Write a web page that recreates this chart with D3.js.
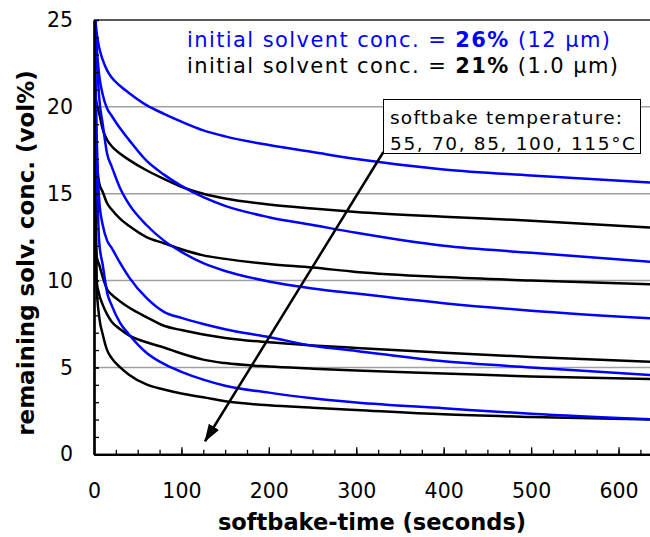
<!DOCTYPE html>
<html>
<head>
<meta charset="UTF-8">
<title>remaining solvent vs softbake time</title>
<script src="https://d3js.org/d3.v7.min.js"></script>
<style>
    body { margin: 0; background: #fff; }
    svg { display: block; font-family: "DejaVu Sans", Verdana, sans-serif; }
</style>
</head>
<body>
<div id="chart"></div>
<script>
// softbake time (s), shared by every curve
const times = [0, 3, 6, 10, 15, 20, 30, 40, 60, 80, 100, 125, 150, 200, 250, 300, 400, 500, 636];

// initial 26% (12 um) film, blue: 55, 70, 85, 100, 115 °C
const blue55  = [26, 24.3, 23.4, 22.7, 22.1, 21.7, 21.2, 20.8, 20.1, 19.6, 19.15, 18.65, 18.3, 17.8, 17.4, 17.0, 16.4, 16.05, 15.64];
const blue70  = [26, 23.5, 21.8, 20.7, 19.9, 19.5, 18.75, 18.1, 16.9, 16.1, 15.45, 14.8, 14.3, 13.65, 13.2, 12.75, 12.0, 11.6, 11.09];
const blue85  = [26, 23.0, 20.5, 19.0, 17.3, 16.6, 15.3, 14.4, 13.2, 12.3, 11.65, 11.0, 10.55, 9.95, 9.55, 9.25, 8.7, 8.27, 7.83];
const blue100 = [26, 18.5, 14.6, 13.2, 12.3, 11.9, 11.0, 10.2, 9.0, 8.2, 7.85, 7.5, 7.2, 6.75, 6.25, 5.95, 5.35, 5.0, 4.57];
const blue115 = [26, 17.0, 12.2, 10.9, 9.3, 8.6, 7.55, 6.9, 5.85, 5.2, 4.75, 4.3, 3.95, 3.55, 3.22, 2.98, 2.65, 2.33, 2.01];

// initial 21% (1.0 um) film, black: 55, 70, 85, 100, 115 °C
const black55  = [21, 20.2, 19.6, 18.7, 18.1, 17.75, 17.3, 16.95, 16.35, 15.85, 15.4, 15.0, 14.72, 14.38, 14.15, 13.95, 13.68, 13.45, 13.05];
const black70  = [21, 17.0, 15.6, 15.1, 14.45, 14.1, 13.55, 13.15, 12.5, 12.15, 11.8, 11.45, 11.25, 10.95, 10.75, 10.5, 10.2, 10.0, 9.79];
const black85  = [21, 11.4, 10.9, 10.2, 9.5, 9.2, 8.8, 8.45, 7.9, 7.4, 7.15, 6.9, 6.7, 6.45, 6.27, 6.12, 5.85, 5.6, 5.33];
const black100 = [21, 10.0, 9.2, 8.6, 8.05, 7.65, 7.2, 6.85, 6.45, 6.15, 5.8, 5.45, 5.25, 5.05, 4.93, 4.82, 4.65, 4.48, 4.33];
const black115 = [21, 9.7, 7.9, 6.9, 6.0, 5.55, 5.0, 4.58, 4.02, 3.73, 3.5, 3.28, 3.05, 2.82, 2.68, 2.55, 2.3, 2.15, 2.01];

const xTicks = [0, 100, 200, 300, 400, 500, 600];
const yTicks = [0, 5, 10, 15, 20, 25];
const legendLines = [
    { pre: "initial solvent conc. = ", bold: "26%", post: " (12 \u00b5m)", color: "#0000ff" },
    { pre: "initial solvent conc. = ", bold: "21%", post: " (1.0 \u00b5m)", color: "#000000" }
];
const noteLines = ["softbake temperature:", "55, 70, 85, 100, 115\u00b0C"];
const arrowFrom = [331, 17.4];   // data coords (s, vol%)
const arrowTo = [127, 0.75];

const blueSeries = [blue55, blue70, blue85, blue100, blue115];
const blackSeries = [black55, black70, black85, black100, black115];

const width = 650, height = 537;
const margin = { top: 20, right: 0, bottom: 82.7, left: 94 };

const svg = d3.select("#chart").append("svg")
    .attr("width", width)
    .attr("height", height);

const x = d3.scaleLinear().domain([0, 636]).range([margin.left, width - margin.right]);
const y = d3.scaleLinear().domain([0, 25]).range([height - margin.bottom, margin.top]);

// grid lines
svg.append("g")
    .selectAll("line")
    .data(yTicks.filter(d => d > 0))
    .join("line")
    .attr("x1", x(0))
    .attr("x2", width)
    .attr("y1", d => y(d))
    .attr("y2", d => y(d))
    .attr("stroke", d => d === 25 ? "#222" : "#a0a0a0")
    .attr("stroke-width", 1.5);

// curves
svg.append("clipPath").attr("id", "plot")
    .append("rect")
    .attr("x", x(0)).attr("y", y(25))
    .attr("width", width - x(0)).attr("height", y(0) - y(25));

const line = d3.line()
    .x((d, i) => x(times[i]))
    .y(d => y(d))
    .curve(d3.curveMonotoneX);

const curves = svg.append("g").attr("clip-path", "url(#plot)").attr("fill", "none");
curves.selectAll("path.black")
    .data(blackSeries)
    .join("path")
    .attr("class", "black")
    .attr("d", line)
    .attr("stroke", "#000")
    .attr("stroke-width", 2.5);
curves.selectAll("path.blue")
    .data(blueSeries)
    .join("path")
    .attr("class", "blue")
    .attr("d", line)
    .attr("stroke", "#0000ff")
    .attr("stroke-width", 2.5);

// axes: minor ticks inside, then labelled majors
const xMinor = d3.axisBottom(x).tickValues(d3.range(0, 637, 25)).tickSize(-4.5).tickSizeOuter(0).tickFormat("");
const xMajor = d3.axisBottom(x).tickValues(xTicks).tickSize(-7).tickSizeOuter(0).tickPadding(29.5);
const yMinor = d3.axisLeft(y).tickValues(d3.range(0, 26, 1)).tickSize(-5).tickSizeOuter(0).tickFormat("");
const yMajor = d3.axisLeft(y).tickValues(yTicks).tickSize(-5).tickSizeOuter(0).tickPadding(21);

[xMinor, xMajor].forEach(ax => {
    svg.append("g").attr("transform", `translate(0,${y(0)})`).call(ax);
});
[yMinor, yMajor].forEach(ax => {
    svg.append("g").attr("transform", `translate(${x(0)},0)`).call(ax);
});
svg.selectAll(".domain").attr("stroke", "#000").attr("stroke-width", 2.2);
svg.selectAll(".tick line").attr("stroke", "#000").attr("stroke-width", 1.3);
svg.selectAll(".tick text")
    .attr("font-family", "DejaVu Sans, sans-serif")
    .attr("font-size", 20.5)
    .attr("fill", "#000");

// axis titles
svg.append("text")
    .attr("x", (x(0) + width) / 2)
    .attr("y", 530)
    .attr("text-anchor", "middle")
    .attr("font-weight", "bold")
    .attr("font-size", 22.5)
    .text("softbake-time (seconds)");

svg.append("text")
    .attr("transform", `translate(33.5,${253}) rotate(-90)`)
    .attr("text-anchor", "middle")
    .attr("font-weight", "bold")
    .attr("font-size", 23)
    .text("remaining solv. conc. (vol%)");

// legend text
const legend = svg.append("g");
legendLines.forEach((d, i) => {
    const t = legend.append("text")
        .attr("x", 187)
        .attr("y", 47 + i * 26)
        .attr("font-size", 21)
        .attr("fill", d.color)
        .attr("textLength", i === 0 ? 423 : 431)
        .attr("lengthAdjust", "spacing");
    t.append("tspan").text(d.pre);
    t.append("tspan").attr("font-weight", "bold").text(d.bold);
    t.append("tspan").text(d.post);
});

// note box and arrow
const defs = svg.append("defs");
defs.append("marker")
    .attr("id", "head")
    .attr("viewBox", "0 0 18 12")
    .attr("refX", 17)
    .attr("refY", 6)
    .attr("markerWidth", 18)
    .attr("markerHeight", 12)
    .attr("markerUnits", "userSpaceOnUse")
    .attr("orient", "auto")
    .append("path")
    .attr("d", "M0,0 L18,6 L0,12 Z")
    .attr("fill", "#000");

svg.append("line")
    .attr("x1", x(arrowFrom[0])).attr("y1", y(arrowFrom[1]))
    .attr("x2", x(arrowTo[0])).attr("y2", y(arrowTo[1]))
    .attr("stroke", "#000")
    .attr("stroke-width", 2.5)
    .attr("marker-end", "url(#head)");

const note = svg.append("g");
note.append("rect")
    .attr("x", 383.5).attr("y", 99.5)
    .attr("width", 257).attr("height", 54)
    .attr("fill", "#fff")
    .attr("stroke", "#000")
    .attr("stroke-width", 1);
note.selectAll("text")
    .data(noteLines)
    .join("text")
    .attr("x", 390)
    .attr("y", (d, i) => 123.5 + i * 26)
    .attr("font-size", 18.5)
    .attr("textLength", (d, i) => i === 0 ? 232 : 245)
    .attr("lengthAdjust", "spacing")
    .text(d => d);
</script>
</body>
</html>
